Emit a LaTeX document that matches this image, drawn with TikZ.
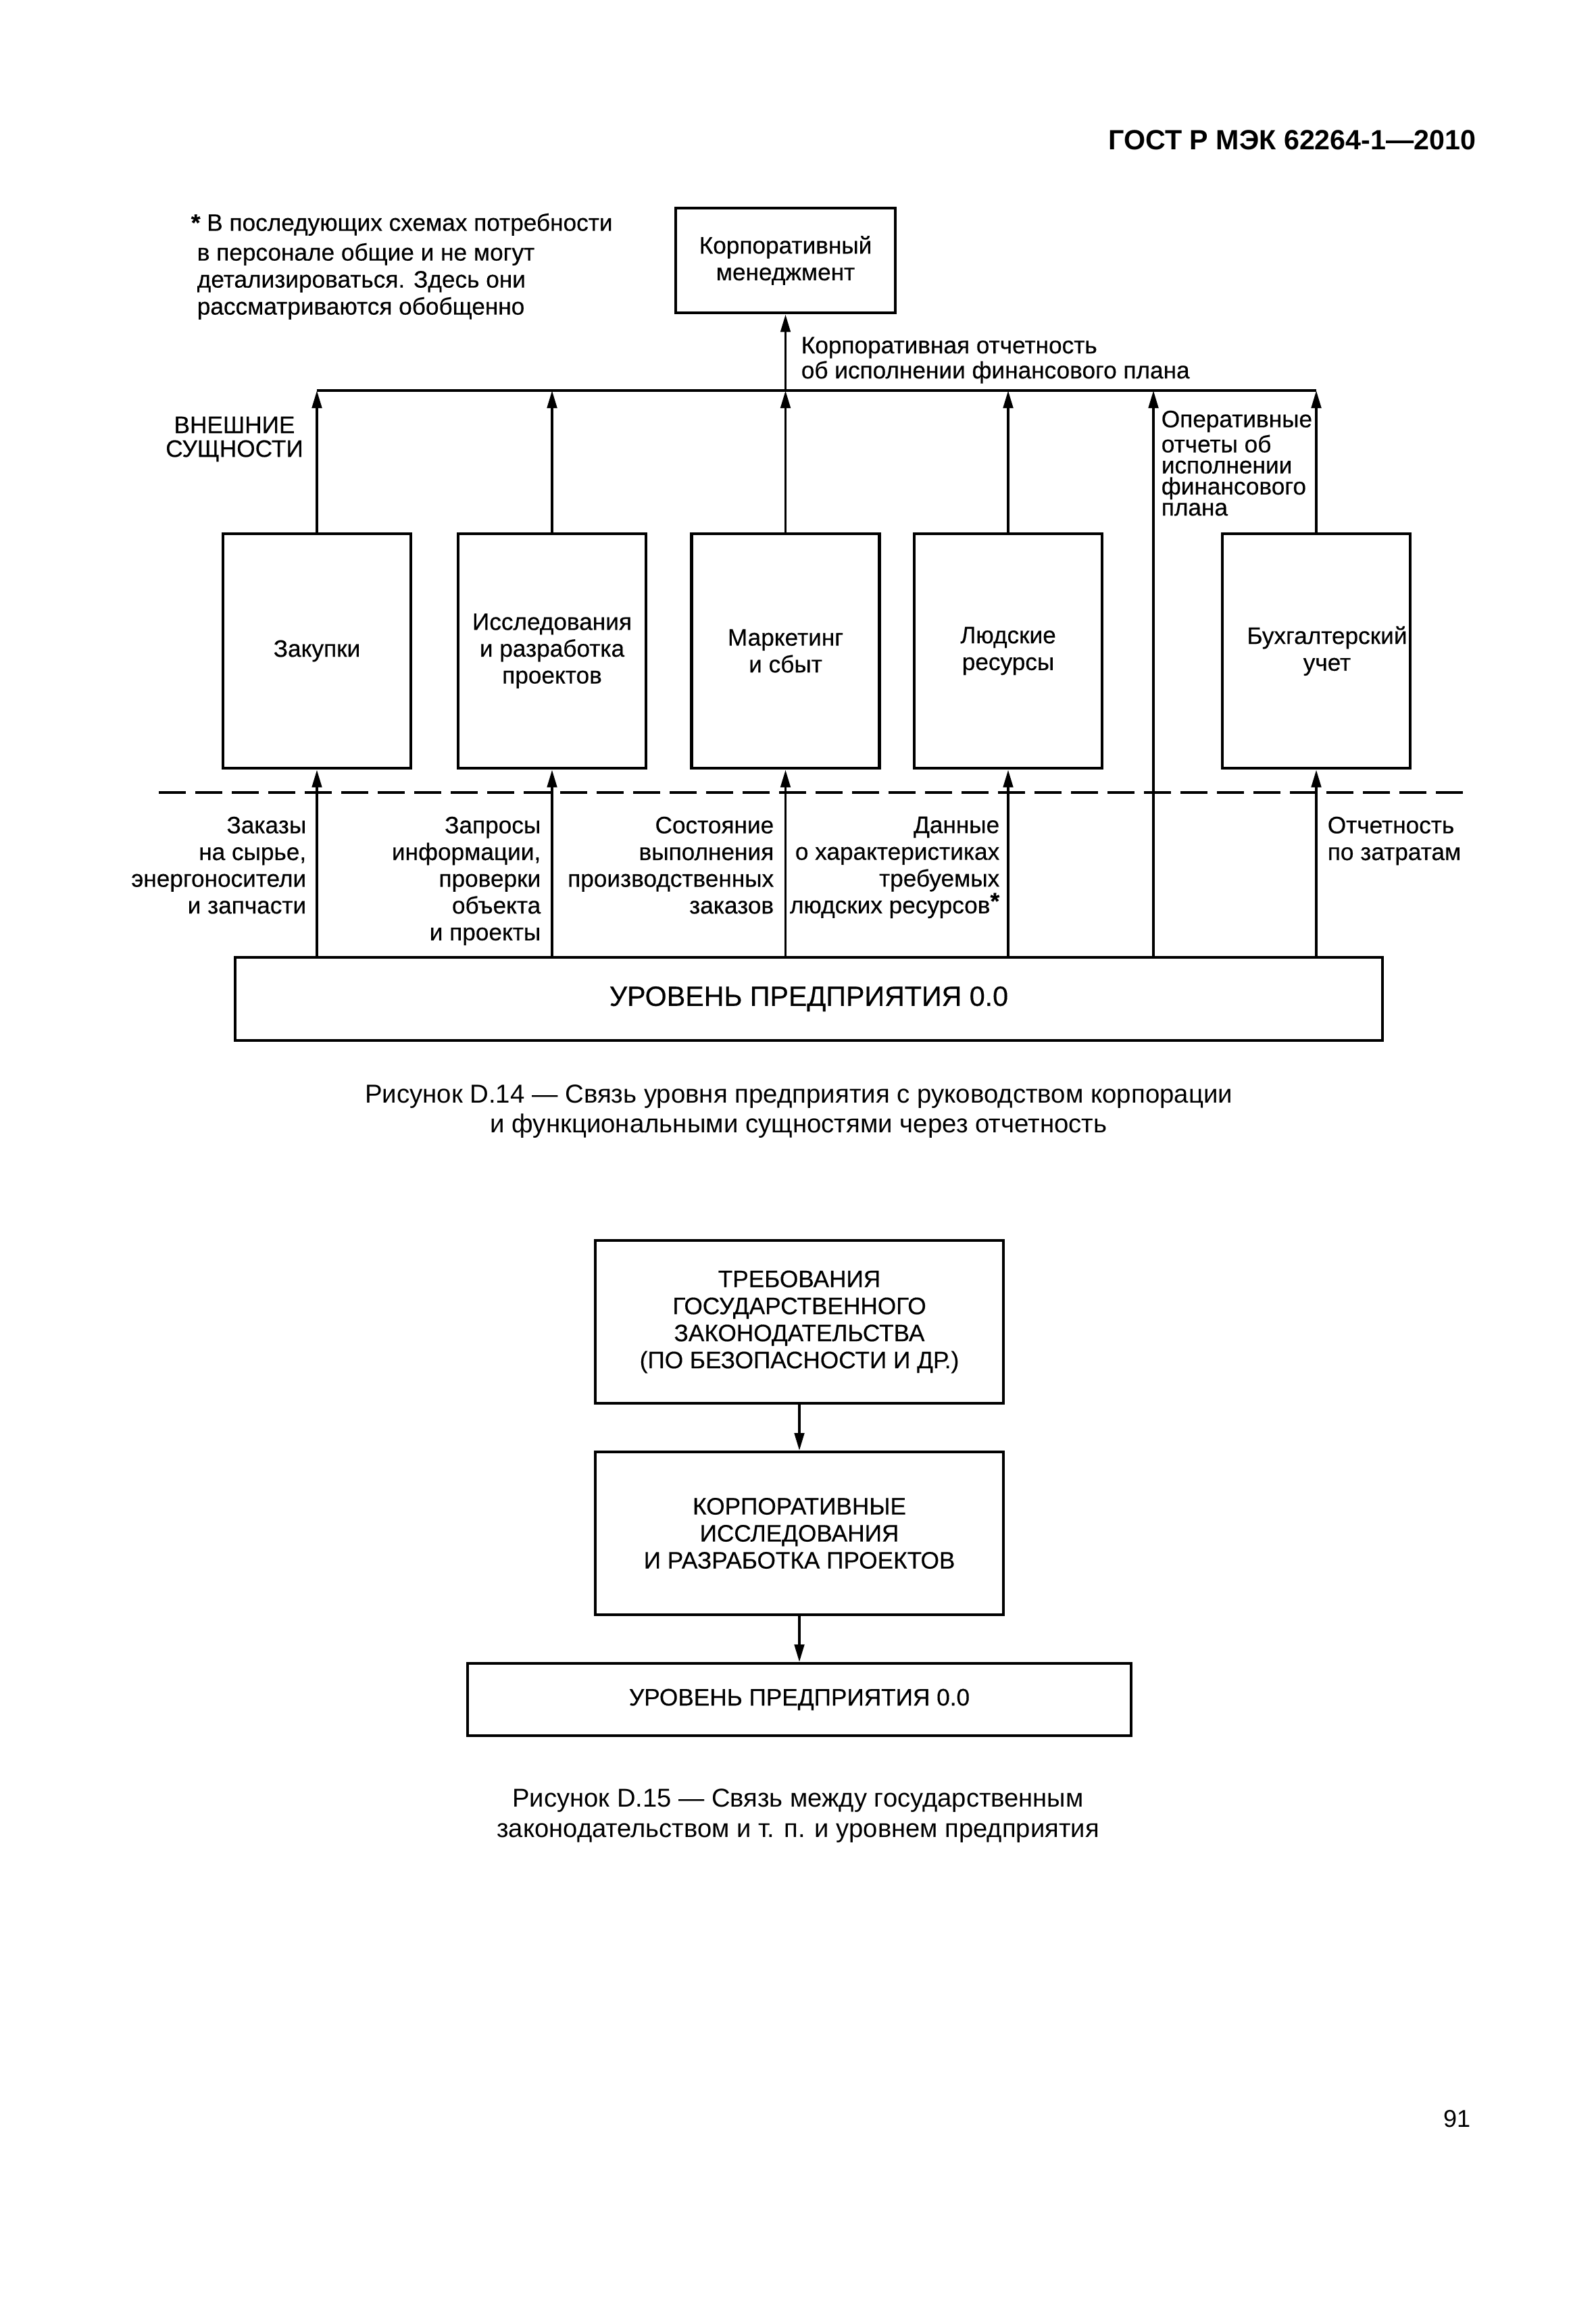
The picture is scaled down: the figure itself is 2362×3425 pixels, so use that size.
\documentclass[tikz,border=0pt]{standalone}
\usepackage{fontspec}
\setmainfont{Liberation Sans}
\newfontfamily\diagfont[FakeBold=0.4]{Liberation Sans}
\usetikzlibrary{arrows.meta}

\newcommand{\fsz}[2]{\fontsize{#1}{#2}\selectfont}

\tikzset{every picture/.style={line width=0.9pt}}
\tikzset{
  fbox/.style={draw, line width=1.2pt, minimum width=69.5pt, minimum height=86.75pt,
    align=center, inner sep=1pt, font=\diagfont\fsz{8.8pt}{9.9pt}},
  gbox/.style={draw, line width=1pt, minimum width=151pt, minimum height=60.25pt,
    align=center, inner sep=1pt, font=\diagfont\fsz{8.8pt}{10pt}},
  lbl/.style={inner sep=0pt, font=\diagfont\fsz{8.8pt}{9.9pt}},
  arr/.style={line width=0.9pt, -{Triangle[length=6.5pt,width=3.6pt]}},
}

\begin{document}
\begin{tikzpicture}[x=0.25pt,y=0.25pt,yscale=-1,xscale=1]
\useasboundingbox (0,0) rectangle (2362,3425);
\fill[white] (0,0) rectangle (2362,3425);

% Text Node
\node (hdr) [anchor=base east, inner sep=0pt, font=\fsz{10.3pt}{12pt}\bfseries] at (2186,222) {ГОСТ Р МЭК 62264-1—2010};
% Text Node
\node (note) [lbl, anchor=north west, align=left, font=\diagfont\fsz{8.8pt}{10pt}] at (290,314) {\hspace*{-2.25pt}\textbf{*} В последующих схемах потребности\\[1pt]в персонале общие и не могут\\детализироваться. Здесь они\\рассматриваются обобщенно};

%Shape: Rectangle
\node (corp) [fbox, minimum width=81.25pt, minimum height=38.75pt] at (1162.5,385.5) {Корпоративный\\менеджмент};

%Shape: Rectangle
\node (zak) [fbox] at (469,963.5) {Закупки};
\node (isl) [fbox] at (817,963.5) {Исследования\\и разработка\\проектов};
\node (mar) [fbox] at (1162.5,963.5) {Маркетинг\\и сбыт};
\node (hr)  [fbox] at (1492,963.5) {Людские\\ресурсы};
\node (buh) [fbox] at (1948,963.5) {\hspace*{8pt}Бухгалтерский\\\hspace*{8pt}учет};

%Shape: Rectangle
\node (ent) [fbox, minimum width=424.5pt, minimum height=30.75pt, font=\diagfont\fsz{10.3pt}{12pt}] at (1197,1478.5) {УРОВЕНЬ ПРЕДПРИЯТИЯ 0.0};

%Straight Lines
\coordinate (busL) at (469,578);
\coordinate (busR) at (1948,578);
\coordinate (opx) at (1707,578);
\draw [line width=1pt] (busL) -- (busR);
\draw [arr] (corp.south |- busL) -- (corp.south);
\foreach \b in {zak,isl,mar,hr,buh}{
  \draw [arr] (\b.north) -- (\b.north |- busL);
  \draw [arr] (\b.south |- ent.north) -- (\b.south);
}
\draw [arr] (ent.north -| opx) -- (opx);

%Straight Lines
\coordinate (dashL) at (235,1173);
\coordinate (dashR) at (2174,1173);
\draw [line width=1pt, dash pattern=on 10pt off 3.5pt] (dashL) -- (dashR);

% Text Node
\node (lcorp) [lbl, anchor=north west, align=left, font=\diagfont\fsz{8.8pt}{8pt}] at (1184,497) {Корпоративная отчетность\\об исполнении финансового плана};
% Text Node
\node (lext) [lbl, align=center, font=\diagfont\fsz{8.8pt}{8.8pt}] at (347,650) {ВНЕШНИЕ\\СУЩНОСТИ};
% Text Node
\node (lop) [lbl, anchor=north west, align=left, font=\diagfont\fsz{8.8pt}{7.8pt}] at (1717,606) {Оперативные\\отчеты об\\исполнении\\финансового\\плана};

% Text Node
\node (lzak) [lbl, anchor=north east, align=right] at (455,1207) {Заказы\\на сырье,\\энергоносители\\и запчасти};
% Text Node
\node (lisl) [lbl, anchor=north east, align=right] at (802,1207) {Запросы\\информации,\\проверки\\объекта\\и проекты};
% Text Node
\node (lmar) [lbl, anchor=north east, align=right] at (1147,1207) {Состояние\\выполнения\\производственных\\заказов};
% Text Node
\node (lhr) [lbl, anchor=north east, align=right] at (1481,1207) {Данные\\о характеристиках\\требуемых\\людских ресурсов\raisebox{1.5pt}{\textbf{*}}};
% Text Node
\node (lbuh) [lbl, anchor=north west, align=left] at (1963,1207) {Отчетность\\по затратам};

% Text Node
\node (cap1) [inner sep=0pt, align=center, font=\fsz{9.6pt}{11pt}] at (1182,1645) {Рисунок D.14 — Связь уровня предприятия с руководством корпорации\\и функциональными сущностями через отчетность};

%Shape: Rectangle
\node (req) [gbox] at (1183,1956.5) {ТРЕБОВАНИЯ\\ГОСУДАРСТВЕННОГО\\ЗАКОНОДАТЕЛЬСТВА\\(ПО БЕЗОПАСНОСТИ И ДР.)};
\node (crd) [gbox] at (1183,2269.5) {КОРПОРАТИВНЫЕ\\ИССЛЕДОВАНИЯ\\И РАЗРАБОТКА ПРОЕКТОВ};
\node (ent2) [gbox, minimum width=245.5pt, minimum height=26.75pt] at (1183,2515.5) {УРОВЕНЬ ПРЕДПРИЯТИЯ 0.0};

%Straight Lines
\draw [arr] (req) -- (crd);
\draw [arr] (crd) -- (ent2);

% Text Node
\node (cap2) [inner sep=0pt, align=center, font=\fsz{9.55pt}{11.25pt}] at (1181,2688) {Рисунок D.15 — Связь между государственным\\законодательством и т. п. и уровнем предприятия};
% Text Node
\node (pg) [anchor=base east, inner sep=0pt, font=\fsz{9pt}{10pt}] at (2178,3148) {91};

\end{tikzpicture}
\end{document}
